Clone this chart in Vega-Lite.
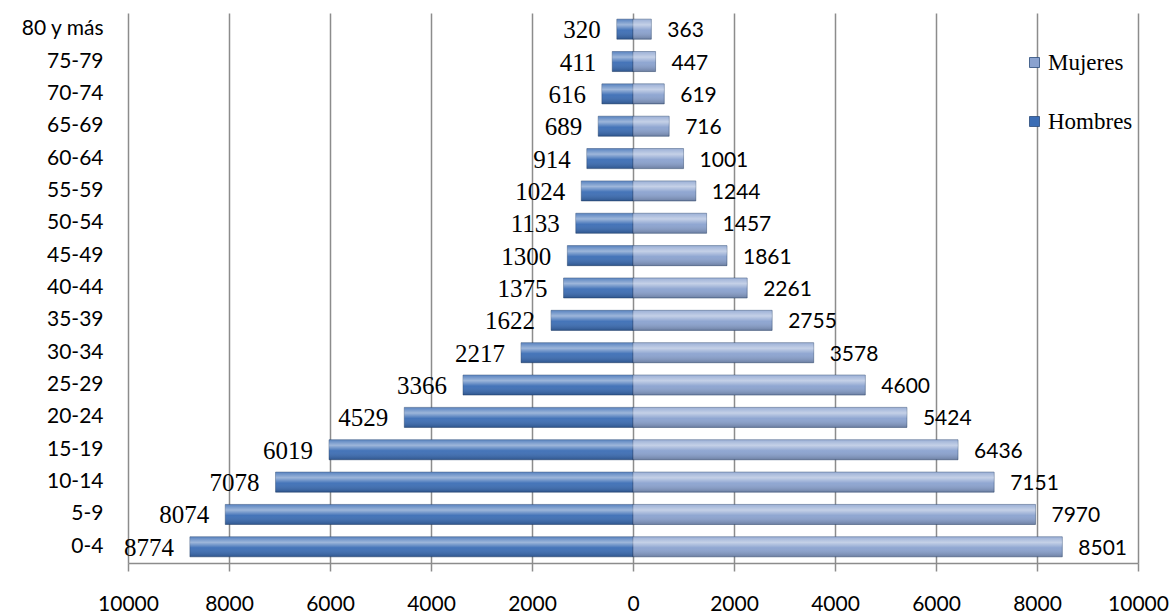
{
  "$schema": "https://vega.github.io/schema/vega-lite/v6.json",
  "width": 1010,
  "height": 550,
  "autosize": {"type": "none"},
  "padding": {"left": 128, "top": 13, "right": 35, "bottom": 53},
  "background": "white",
  "config": {"view": {"stroke": null}},
  "data": {
    "values": [
      {"edad": "0-4", "sexo": "Hombres", "poblacion": -8774},
      {"edad": "5-9", "sexo": "Hombres", "poblacion": -8074},
      {"edad": "10-14", "sexo": "Hombres", "poblacion": -7078},
      {"edad": "15-19", "sexo": "Hombres", "poblacion": -6019},
      {"edad": "20-24", "sexo": "Hombres", "poblacion": -4529},
      {"edad": "25-29", "sexo": "Hombres", "poblacion": -3366},
      {"edad": "30-34", "sexo": "Hombres", "poblacion": -2217},
      {"edad": "35-39", "sexo": "Hombres", "poblacion": -1622},
      {"edad": "40-44", "sexo": "Hombres", "poblacion": -1375},
      {"edad": "45-49", "sexo": "Hombres", "poblacion": -1300},
      {"edad": "50-54", "sexo": "Hombres", "poblacion": -1133},
      {"edad": "55-59", "sexo": "Hombres", "poblacion": -1024},
      {"edad": "60-64", "sexo": "Hombres", "poblacion": -914},
      {"edad": "65-69", "sexo": "Hombres", "poblacion": -689},
      {"edad": "70-74", "sexo": "Hombres", "poblacion": -616},
      {"edad": "75-79", "sexo": "Hombres", "poblacion": -411},
      {"edad": "80 y más", "sexo": "Hombres", "poblacion": -320},
      {"edad": "0-4", "sexo": "Mujeres", "poblacion": 8501},
      {"edad": "5-9", "sexo": "Mujeres", "poblacion": 7970},
      {"edad": "10-14", "sexo": "Mujeres", "poblacion": 7151},
      {"edad": "15-19", "sexo": "Mujeres", "poblacion": 6436},
      {"edad": "20-24", "sexo": "Mujeres", "poblacion": 5424},
      {"edad": "25-29", "sexo": "Mujeres", "poblacion": 4600},
      {"edad": "30-34", "sexo": "Mujeres", "poblacion": 3578},
      {"edad": "35-39", "sexo": "Mujeres", "poblacion": 2755},
      {"edad": "40-44", "sexo": "Mujeres", "poblacion": 2261},
      {"edad": "45-49", "sexo": "Mujeres", "poblacion": 1861},
      {"edad": "50-54", "sexo": "Mujeres", "poblacion": 1457},
      {"edad": "55-59", "sexo": "Mujeres", "poblacion": 1244},
      {"edad": "60-64", "sexo": "Mujeres", "poblacion": 1001},
      {"edad": "65-69", "sexo": "Mujeres", "poblacion": 716},
      {"edad": "70-74", "sexo": "Mujeres", "poblacion": 619},
      {"edad": "75-79", "sexo": "Mujeres", "poblacion": 447},
      {"edad": "80 y más", "sexo": "Mujeres", "poblacion": 363}
    ]
  },
  "encoding": {
    "y": {
      "field": "edad",
      "type": "nominal",
      "sort": ["80 y más", "75-79", "70-74", "65-69", "60-64", "55-59", "50-54", "45-49", "40-44", "35-39", "30-34", "25-29", "20-24", "15-19", "10-14", "5-9", "0-4"],
      "scale": {"paddingInner": 0.38, "paddingOuter": 0.19},
      "axis": {
        "title": null,
        "domain": false,
        "ticks": false,
        "grid": false,
        "labelPadding": 25,
        "labelFont": "Lato",
        "labelFontWeight": "normal",
        "labelFontSize": 21,
        "labelColor": "#000000"
      }
    }
  },
  "layer": [
    {
      "mark": {"type": "bar", "stroke": "#1f3b66", "strokeOpacity": 0.45, "strokeWidth": 1},
      "encoding": {
        "x": {
          "field": "poblacion",
          "type": "quantitative",
          "scale": {"domain": [-10000, 10000], "nice": false},
          "axis": {
            "title": null,
            "values": [-10000, -8000, -6000, -4000, -2000, 0, 2000, 4000, 6000, 8000, 10000],
            "labelExpr": "format(abs(datum.value), 'd')",
            "labelFlush": false,
            "labelOverlap": false,
            "grid": true,
            "gridColor": "#8c8c8c",
            "gridWidth": 1.5,
            "domainColor": "#8c8c8c",
            "domainWidth": 1.5,
            "tickColor": "#8c8c8c",
            "tickWidth": 1.5,
            "tickSize": 8,
            "labelPadding": 22,
            "labelFont": "Lato",
            "labelFontWeight": "normal",
            "labelFontSize": 21,
            "labelColor": "#000000"
          }
        },
        "color": {
          "field": "sexo",
          "type": "nominal",
          "scale": {"domain": ["Mujeres", "Hombres"], "range": ["#8aa2cf", "#3b6db5"]},
          "legend": {
            "title": null,
            "orient": "none",
            "legendX": 895,
            "legendY": 38,
            "padding": 0,
            "symbolType": "square",
            "symbolSize": 100,
            "symbolStrokeColor": "#2a4a7a",
            "symbolStrokeWidth": 0.8,
            "labelFont": "Liberation Serif",
            "labelFontWeight": "normal",
            "labelFontSize": 23,
            "labelColor": "#000000",
            "labelOffset": 2,
            "rowPadding": 35
          }
        }
      }
    },
    {
      "mark": {
        "type": "bar",
        "color": {
          "gradient": "linear",
          "x1": 0, "y1": 0, "x2": 0, "y2": 1,
          "stops": [
            {"offset": 0, "color": "rgba(255,255,255,0.15)"},
            {"offset": 0.28, "color": "rgba(255,255,255,0.5)"},
            {"offset": 0.55, "color": "rgba(255,255,255,0.05)"},
            {"offset": 1, "color": "rgba(0,0,0,0.22)"}
          ]
        }
      },
      "encoding": {
        "x": {"field": "poblacion", "type": "quantitative"}
      }
    },
    {
      "transform": [
        {"filter": "datum.sexo === 'Hombres'"},
        {"calculate": "abs(datum.poblacion)", "as": "etiqueta"}
      ],
      "mark": {"type": "text", "align": "right", "baseline": "middle", "dx": -16, "dy": 1, "font": "Liberation Serif", "fontWeight": "normal", "fontSize": 25, "color": "#000000"},
      "encoding": {
        "x": {"field": "poblacion", "type": "quantitative"},
        "text": {"field": "etiqueta", "type": "quantitative", "format": "d"}
      }
    },
    {
      "transform": [
        {"filter": "datum.sexo === 'Mujeres'"}
      ],
      "mark": {"type": "text", "align": "left", "baseline": "middle", "dx": 16, "dy": 2, "font": "Lato", "fontWeight": "normal", "fontSize": 21, "color": "#000000"},
      "encoding": {
        "x": {"field": "poblacion", "type": "quantitative"},
        "text": {"field": "poblacion", "type": "quantitative", "format": "d"}
      }
    }
  ]
}
